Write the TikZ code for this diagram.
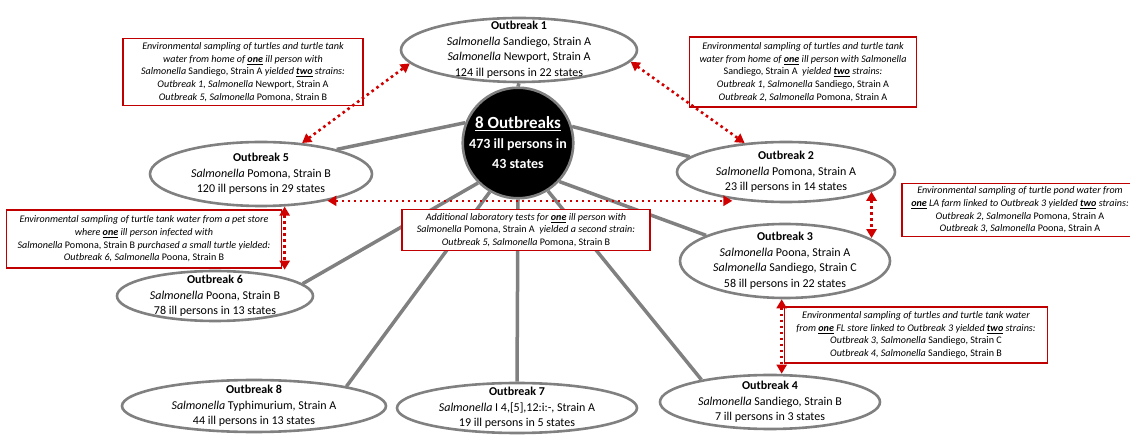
\documentclass[tikz,border=0pt]{standalone}
\usepackage{fontspec}
\setmainfont{Carlito}
\usetikzlibrary{shapes.geometric,arrows.meta,backgrounds}

\definecolor{rimgray}{RGB}{128,128,128}
\definecolor{boxred}{RGB}{192,0,0}
\definecolor{linkred}{RGB}{208,0,0}

\newcommand{\salm}[1]{\textit{Salmonella} \textup{#1}}
\newcommand{\uone}{\underline{\textbf{one}}}
\newcommand{\utwo}{\underline{\textbf{two}}}

\tikzset{
    outbreak/.style={
        ellipse,
        draw=rimgray,
        line width=2.6pt,
        fill=white,
        inner xsep=-15pt,
        inner ysep=-10pt,
        align=center,
        font=\fontsize{12}{15.5}\selectfont
    },
    hub/.style={
        circle,
        draw=rimgray,
        line width=2.6pt,
        fill=black,
        text=white,
        inner sep=0pt,
        minimum size=110pt,
        align=center,
        font=\fontsize{14}{20}\selectfont\bfseries
    },
    note/.style={
        rectangle,
        draw=boxred,
        line width=1.3pt,
        fill=white,
        inner sep=2pt,
        align=center,
        font=\fontsize{10.1}{12.6}\selectfont\itshape
    },
    spoke/.style={rimgray, line width=3.5pt},
    link/.style={
        linkred,
        line width=2.6pt,
        dash pattern=on 2.6pt off 3.4pt,
        {Triangle[width=10pt,length=9pt]}-{Triangle[width=10pt,length=9pt]}
    }
}

\begin{document}
\begin{tikzpicture}[x=1pt,y=-1pt]
    \useasboundingbox (0,0) rectangle (1130,435);

    % Hub in the middle:
    \node[hub] (c) at (518,143)
        {{\fontsize{17}{20}\selectfont\underline{8 Outbreaks}}\\473 ill persons in\\43 states};

    % Outbreaks round the hub:
    \node[outbreak, minimum width=236pt, minimum height=64pt] (o1) at (519,50)
        {\textbf{Outbreak 1}\\\salm{Sandiego, Strain A}\\\salm{Newport, Strain A}\\124 ill persons in 22 states};
    \node[outbreak, minimum width=222pt, minimum height=64pt] (o5) at (261,174)
        {\textbf{Outbreak 5}\\\salm{Pomona, Strain B}\\120 ill persons in 29 states};
    \node[outbreak, minimum width=218pt, minimum height=60pt] (o2) at (786,172)
        {\textbf{Outbreak 2}\\\salm{Pomona, Strain A}\\23 ill persons in 14 states};
    \node[outbreak, minimum width=210pt, minimum height=74pt] (o3) at (785,261)
        {\textbf{Outbreak 3}\\\salm{Poona, Strain A}\\\salm{Sandiego, Strain C}\\58 ill persons in 22 states};
    \node[outbreak, minimum width=196pt, minimum height=50pt] (o6) at (215,296)
        {\textbf{Outbreak 6}\\\salm{Poona, Strain B}\\78 ill persons in 13 states};
    \node[outbreak, minimum width=264pt, minimum height=52pt] (o8) at (254,406)
        {\textbf{Outbreak 8}\\\salm{Typhimurium, Strain A}\\44 ill persons in 13 states};
    \node[outbreak, minimum width=240pt, minimum height=50pt] (o7) at (517,408)
        {\textbf{Outbreak 7}\\\salm{I 4,[5],12:i:-, Strain A}\\19 ill persons in 5 states};
    \node[outbreak, minimum width=220pt, minimum height=54pt] (o4) at (770,402)
        {\textbf{Outbreak 4}\\\salm{Sandiego, Strain B}\\7 ill persons in 3 states};

    % Spokes from the hub, behind everything:
    \begin{pgfonlayer}{background}
    \foreach \a/\b in {c.north/o1.south, c.159/o5.18, c.17/o2.171, c.-43/o3.162,
                       c.225/o6.8, c.240/o8.12, c.south/o7.north, c.302/o4.162}
        \draw[spoke] (\a) -- (\b);
    \end{pgfonlayer}

    % Sampling notes:
    \node[note, minimum width=240pt, minimum height=67pt] (nA) at (243,72)
        {Environmental sampling of turtles and turtle tank\\
         water from home of \uone{} ill person with\\
         \salm{Sandiego, Strain A} yielded \utwo{} strains:\\
         Outbreak 1, \salm{Newport, Strain A}\\
         Outbreak 5, \salm{Pomona, Strain B}};
    \node[note, minimum width=227pt, minimum height=70pt] (nB) at (803,72)
        {Environmental sampling of turtles and turtle tank\\
         water from home of \uone{} ill person with \textit{Salmonella}\\
         \textup{Sandiego, Strain A} \ yielded \utwo{} strains:\\
         Outbreak 1, \salm{Sandiego, Strain A}\\
         Outbreak 2, \salm{Pomona, Strain A}};
    \node[note, minimum width=236pt, minimum height=53pt] (nC) at (1020,210)
        {Environmental sampling of turtle pond water from\\
         \uone{} LA farm linked to Outbreak 3 yielded \utwo{} strains:\\
         Outbreak 2, \salm{Pomona, Strain A}\\
         Outbreak 3, \salm{Poona, Strain A}};
    \node[note, minimum width=275pt, minimum height=58pt] (nD) at (144,239)
        {Environmental sampling of turtle tank water from a pet store\\
         where \uone{} ill person infected with\\
         \salm{Pomona, Strain B} purchased a small turtle yielded:\\
         Outbreak 6, \salm{Poona, Strain B}};
    \node[note, minimum width=248pt, minimum height=41pt] (nE) at (526,230)
        {Additional laboratory tests for \uone{} ill person with\\
         \salm{Pomona, Strain A} \ yielded a second strain:\\
         Outbreak 5, \salm{Pomona, Strain B}};
    \node[note, minimum width=263pt, minimum height=56pt] (nF) at (916,335)
        {Environmental sampling of turtles and turtle tank water\\
         from \uone{} FL store linked to Outbreak 3 yielded \utwo{} strains:\\
         Outbreak 3, \salm{Sandiego, Strain C}\\
         Outbreak 4, \salm{Sandiego, Strain B}};

    % Shared strains (dotted double arrows):
    \draw[link] (o5.37) -- (o1.187);
    \draw[link] (o1.354) -- (o2.145);
    \draw[link] (o5.-22) -- (o5.-22 -| o2.207);
    \draw[link] (o5.-54) -- (o5.-54 |- o6.north);
    \draw[link] (o2.-13) -- (o2.-13 |- o3.15);
    \draw[link] (o3.-95) -- (o3.-95 |- o4.north);
\end{tikzpicture}
\end{document}
